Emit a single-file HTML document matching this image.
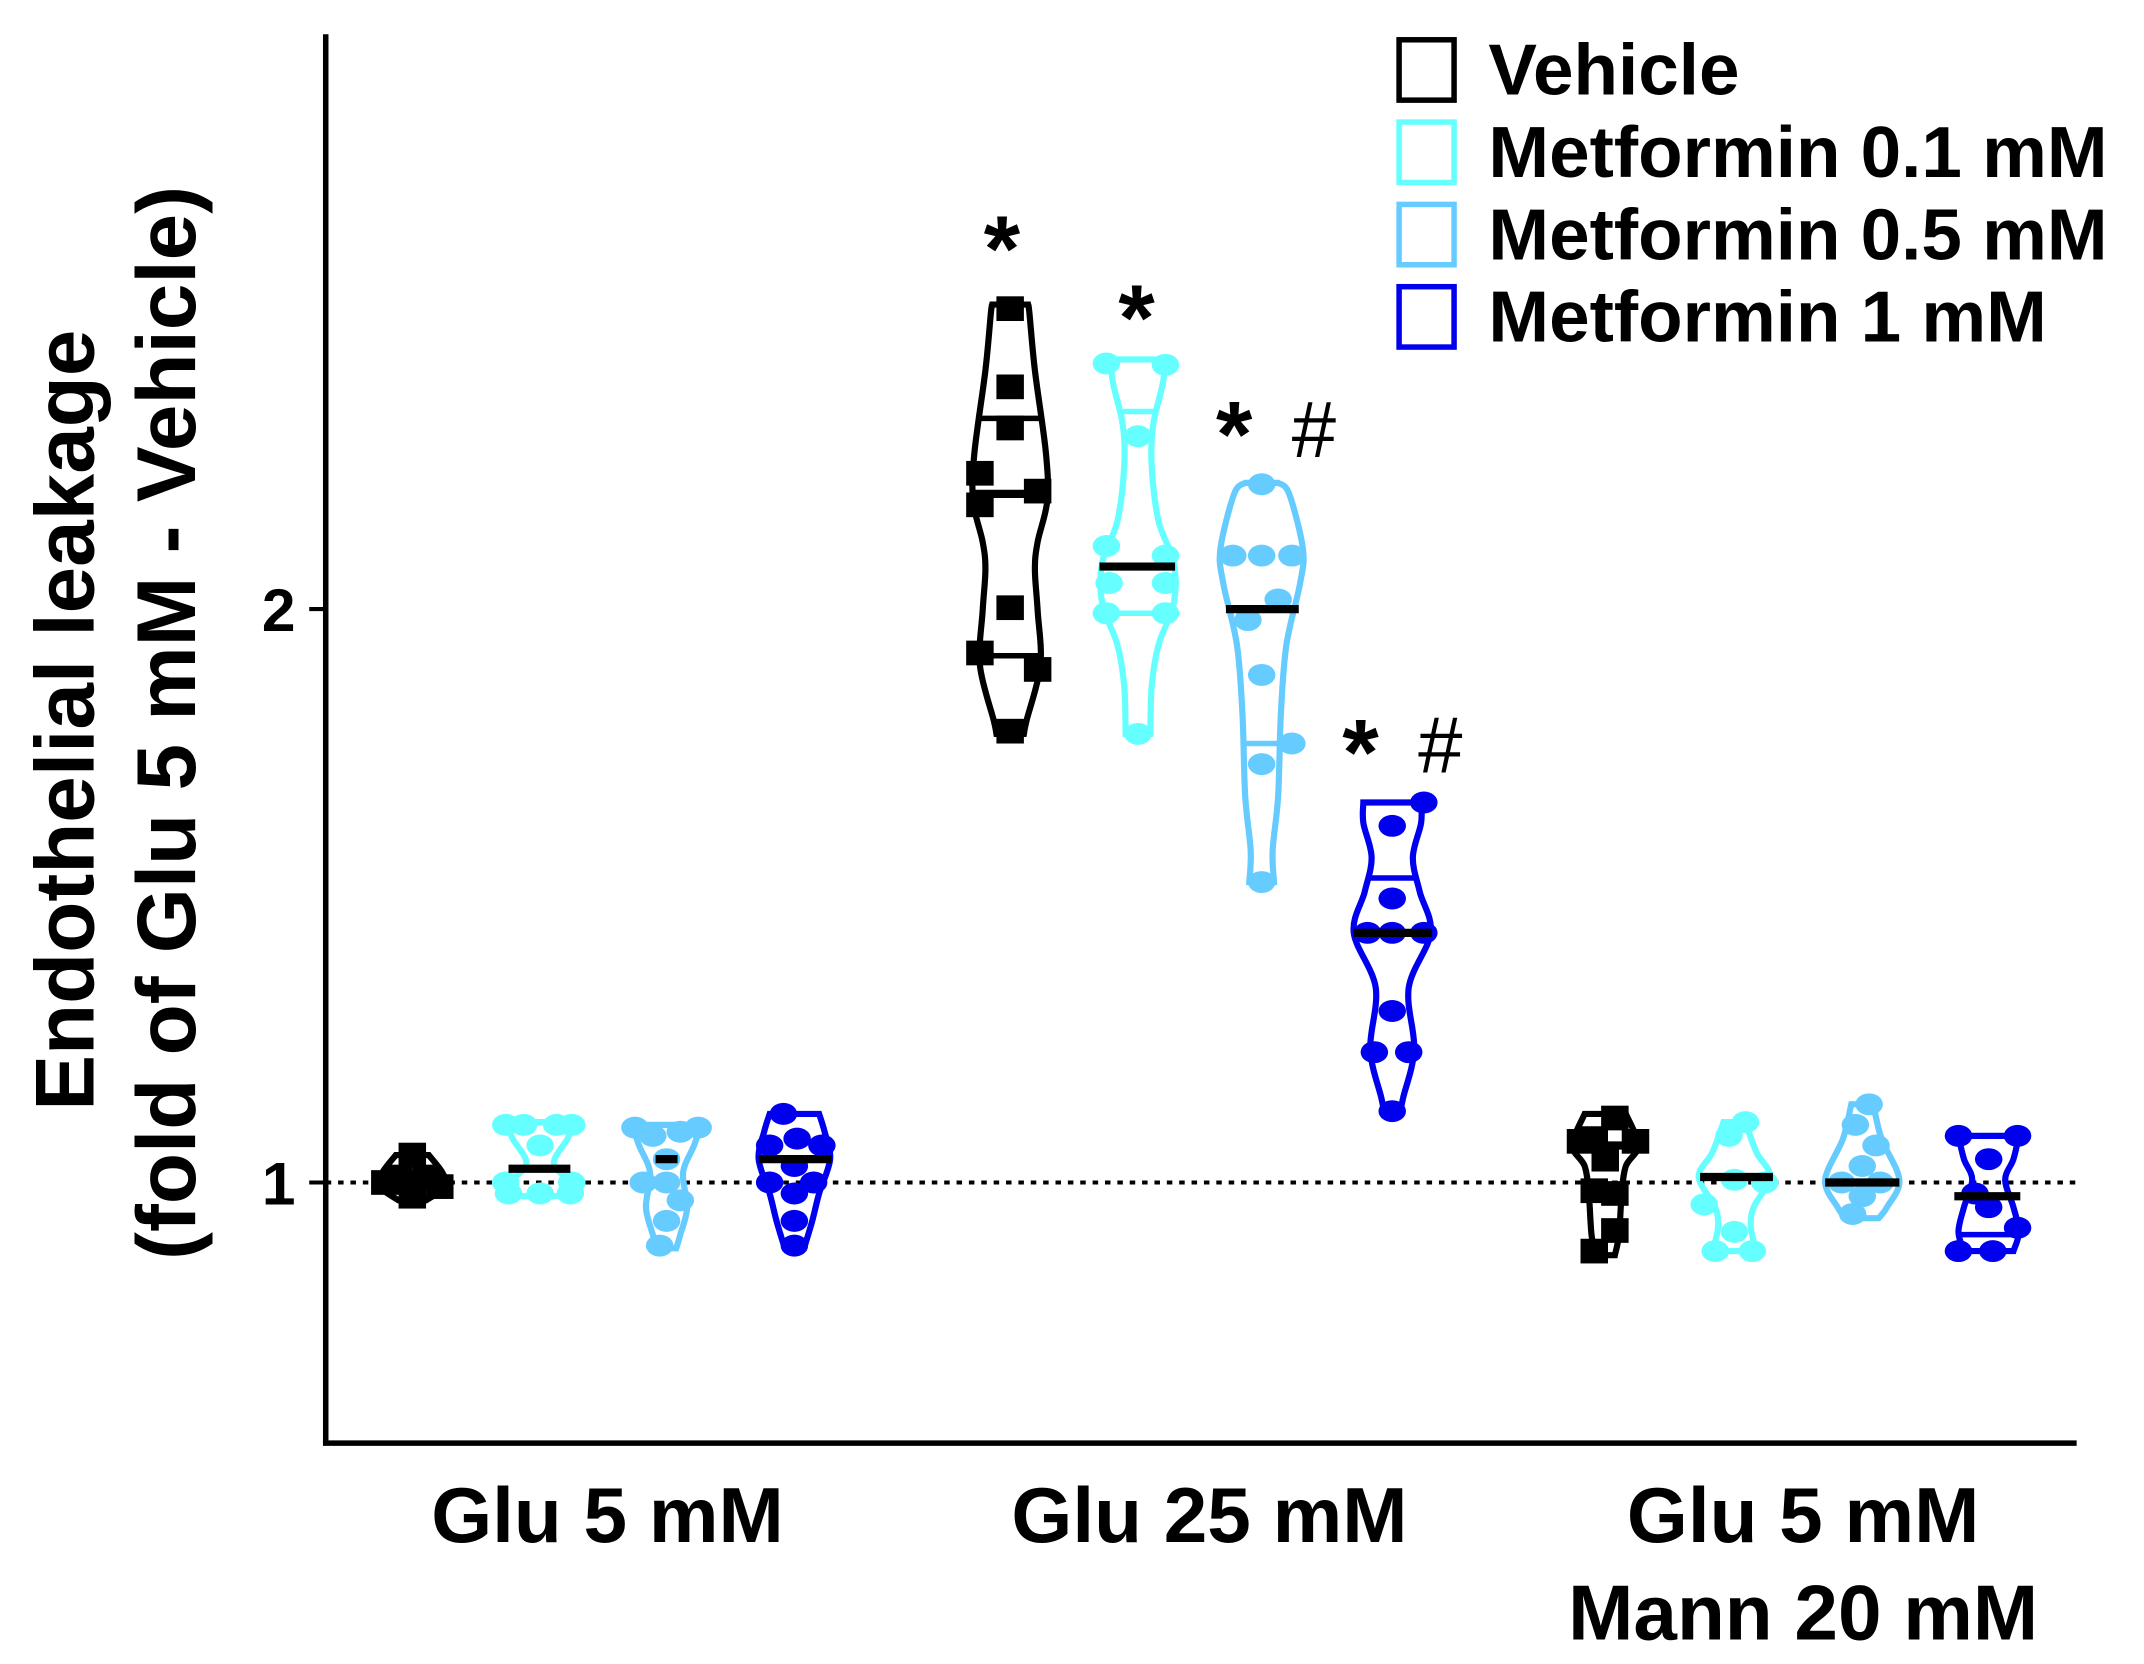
<!DOCTYPE html>
<html><head><meta charset="utf-8"><style>
html,body{margin:0;padding:0;background:#fff;}
svg{display:block;}
text{font-family:"Liberation Sans",Arial,sans-serif;font-weight:bold;fill:#000;}
</style></head><body>
<svg id="s" width="2144" height="1664" viewBox="0 0 1560 1213" preserveAspectRatio="none" xmlns="http://www.w3.org/2000/svg">
<line x1="237" y1="25" x2="237" y2="1053" stroke="#000" stroke-width="4"/>
<line x1="235" y1="1052" x2="1511" y2="1052" stroke="#000" stroke-width="4"/>
<line x1="225" y1="444" x2="237" y2="444" stroke="#000" stroke-width="3"/>
<line x1="225" y1="862" x2="237" y2="862" stroke="#000" stroke-width="3"/>
<text x="215" y="460" font-size="44" text-anchor="end">2</text>
<text x="215" y="878" font-size="44" text-anchor="end">1</text>
<line x1="237" y1="862" x2="1510" y2="862" stroke="#000" stroke-width="3" stroke-dasharray="4,5"/>
<text transform="translate(68,525) rotate(-90)" font-size="61" text-anchor="middle">Endothelial leakage</text>
<text transform="translate(142,527) rotate(-90)" font-size="61" text-anchor="middle">(fold of Glu 5 mM - Vehicle)</text>
<g font-size="57" text-anchor="middle">
<text x="442" y="1124">Glu 5 mM</text>
<text x="880" y="1124">Glu 25 mM</text>
<text x="1312" y="1124">Glu 5 mM</text>
<text x="1312" y="1195">Mann 20 mM</text>
</g>
<g stroke-width="4" fill="none">
<rect x="1018" y="29" width="40" height="44" stroke="#000"/>
<rect x="1018" y="89" width="40" height="44" stroke="#66ffff"/>
<rect x="1018" y="149" width="40" height="44" stroke="#66ccff"/>
<rect x="1018" y="209" width="40" height="44" stroke="#0000ee"/>
</g>
<g font-size="53">
<text x="1083" y="69">Vehicle</text>
<text x="1083" y="129">Metformin 0.1 mM</text>
<text x="1083" y="189">Metformin 0.5 mM</text>
<text x="1083" y="249">Metformin 1 mM</text>
</g>
<g font-size="68" text-anchor="middle">
<text x="729" y="205">*</text>
<text x="827" y="255">*</text>
<text x="898" y="340">*</text>
<text x="990" y="572">*</text>
</g>
<g font-size="58" text-anchor="middle">
<text x="956" y="333" style="font-weight:normal">#</text>
<text x="1048" y="563" style="font-weight:normal">#</text>
</g>
<g id="v"></g>
</svg>
<script>
var NS="http://www.w3.org/2000/svg",G=document.getElementById('v');
function el(n,a){var e=document.createElementNS(NS,n);for(var k in a)e.setAttribute(k,a[k]);G.appendChild(e);return e;}
function smooth(pts){var d="M"+pts[0][0]+","+pts[0][1];for(var i=0;i<pts.length-1;i++){var p0=pts[Math.max(i-1,0)],p1=pts[i],p2=pts[i+1],p3=pts[Math.min(i+2,pts.length-1)];
d+=" C"+(p1[0]+(p2[0]-p0[0])/6)+","+(p1[1]+(p2[1]-p0[1])/6)+" "+(p2[0]-(p3[0]-p1[0])/6)+","+(p2[1]-(p3[1]-p1[1])/6)+" "+p2[0]+","+p2[1];}return d;}
function violin(cx,prof,col,pts,sq,med,q){
 var R=prof.map(function(p){return [cx+p[1],p[0]];}),L=prof.slice().reverse().map(function(p){return [cx-p[1],p[0]];});
 var d=smooth(R)+" L"+L[0][0]+","+L[0][1]+smooth(L).replace(/^M[^C]*/," ")+"Z";
 el('path',{d:d,fill:"none",stroke:col,"stroke-width":4.5});
 (q||[]).forEach(function(y){var w=halfw(prof,y);el('line',{x1:cx-w,y1:y,x2:cx+w,y2:y,stroke:col,"stroke-width":4});});
 pts.forEach(function(p){if(sq)el('rect',{x:p[0]-10,y:p[1]-9,width:20,height:18,fill:col});else el('ellipse',{cx:p[0],cy:p[1],rx:10,ry:8,fill:col});});
 el('line',{x1:med[1],y1:med[0],x2:med[2],y2:med[0],stroke:"#000","stroke-width":6});
}
function halfw(prof,y){for(var i=0;i<prof.length-1;i++){if(y>=prof[i][0]&&y<=prof[i+1][0]){var t=(y-prof[i][0])/(prof[i+1][0]-prof[i][0]);return prof[i][1]+t*(prof[i+1][1]-prof[i][1]);}}return 10;}
var K="#000",C="#66ffff",B="#66ccff",D="#0000ee";
violin(735,[[222,13],[228,14],[270,18],[330,26],[365,27],[395,20],[415,18],[445,20],[485,22],[525,12],[535,10]],K,
 [[735,225],[735,282],[735,312],[713,345],[713,368],[755,358],[735,443],[713,476],[755,488],[735,533]],true,[360,708,762],[305,478]);
violin(828,[[262,20],[280,18],[310,11],[340,10],[380,15],[410,26],[440,26],[470,15],[500,10],[535,9]],C,
 [[805,265],[848,266],[828,318],[805,398],[848,405],[807,425],[848,425],[805,447],[848,447],[828,535]],false,[413,800,855],[300,447]);
violin(918,[[352,12],[360,20],[400,30],[425,28],[470,18],[520,14],[580,12],[620,8],[643,9]],B,
 [[918,353],[897,405],[918,405],[940,405],[930,437],[908,452],[918,492],[940,542],[918,557],[918,643]],false,[444,892,945],[542]);
violin(1013,[[585,21],[600,21],[625,15],[650,20],[680,28],[720,12],[765,16],[800,8],[810,6]],D,
 [[1036,585],[1013,602],[1013,655],[995,680],[1013,680],[1036,680],[1013,737],[1000,767],[1025,767],[1013,810]],false,[680,985,1042],[640]);
violin(300,[[842,12],[855,22],[865,24],[875,10]],K,
 [[300,842],[280,862],[300,862],[320,865],[300,872],[290,858],[310,858]],true,[862,285,315]);
violin(393,[[818,25],[830,20],[848,10],[862,22],[872,24]],C,
 [[368,820],[381,820],[405,820],[416,820],[393,835],[370,870],[393,870],[415,870],[368,862],[416,862]],false,[852,370,415]);
violin(485,[[820,25],[835,20],[855,12],[880,15],[900,10],[910,7]],B,
 [[462,822],[475,828],[495,825],[508,822],[485,845],[468,862],[485,862],[495,875],[485,890],[480,908]],false,[845,477,493]);
violin(578,[[812,18],[825,22],[845,26],[870,18],[890,13],[910,7]],D,
 [[570,812],[560,835],[580,830],[598,835],[578,850],[560,862],[578,870],[578,890],[578,908],[592,862]],false,[845,552,605]);
violin(1168,[[812,15],[835,24],[850,15],[870,12],[900,10],[915,7]],K,
 [[1175,815],[1160,830],[1190,832],[1168,845],[1160,868],[1175,870],[1175,897],[1160,912],[1150,832]],true,[835,1150,1195]);
violin(1262,[[818,8],[840,16],[858,26],[880,14],[895,12],[912,16]],C,
 [[1270,818],[1258,828],[1262,860],[1240,878],[1262,898],[1248,912],[1275,912],[1284,862]],false,[858,1237,1290]);
violin(1355,[[805,8],[830,14],[860,27],[880,18],[888,12]],B,
 [[1360,805],[1350,820],[1365,835],[1355,850],[1340,862],[1368,862],[1355,872],[1348,885]],false,[862,1328,1382]);
violin(1447,[[828,22],[845,18],[860,12],[880,18],[898,22],[912,18]],D,
 [[1425,828],[1468,828],[1447,845],[1437,870],[1447,880],[1468,895],[1425,912],[1450,912]],false,[872,1422,1470],[900]);
</script>
</body></html>
